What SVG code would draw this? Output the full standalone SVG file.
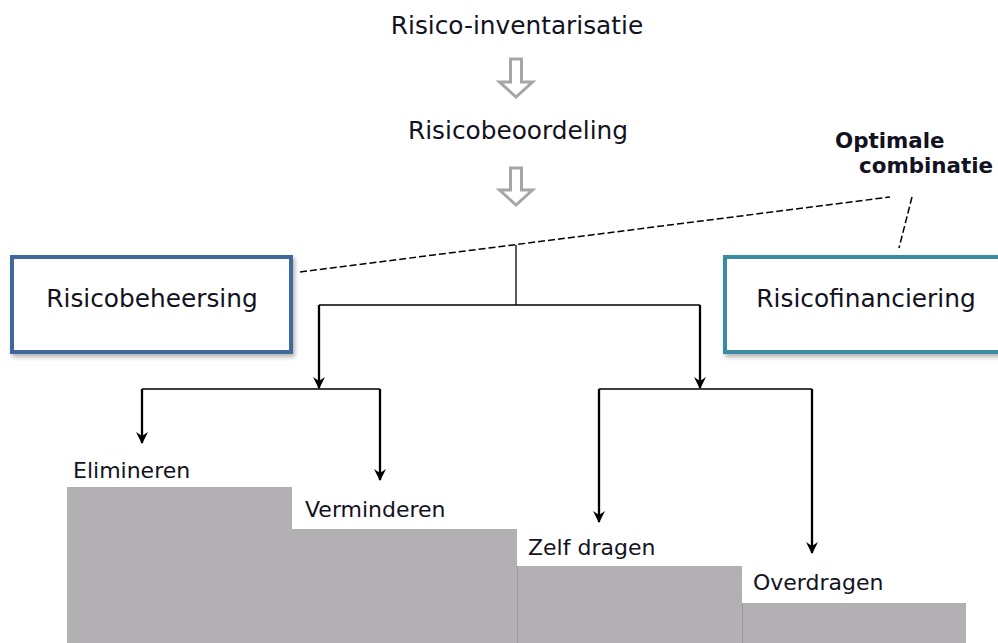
<svg xmlns="http://www.w3.org/2000/svg" width="998" height="643" viewBox="0 0 998 643">
<defs>
<style>
.t{font-family:"DejaVu Sans","Liberation Sans",sans-serif;fill:#121222;}
.big{font-size:24.8px;}
.lbl{font-size:22px;}
.bold{font-size:21.4px;font-weight:bold;}
.hollow{fill:#fff;stroke:#a6a6a6;stroke-width:3;stroke-linejoin:miter;}
.ln{stroke:#000;fill:none;}
.thin{stroke-width:1.3;}
.thick{stroke-width:2.3;}
.dash{stroke:#000;stroke-width:1.5;stroke-dasharray:7 3;fill:none;}
.step{fill:#b3b0b3;}
.edge{stroke:#9c999c;stroke-width:1;}
</style>
<marker id="ah" viewBox="0 0 12 12" refX="11" refY="6" markerWidth="12" markerHeight="12" markerUnits="userSpaceOnUse" orient="auto">
<path d="M0,0 L12,6 L0,12 L4,6 z" fill="#000"/>
</marker>
<filter id="sh" x="-5%" y="-10%" width="115%" height="130%">
<feDropShadow dx="2" dy="3" stdDeviation="2" flood-color="#000" flood-opacity="0.3"/>
</filter>
</defs>
<rect width="998" height="643" fill="#fff"/>

<g id="steps">
<rect class="step" x="67" y="487" width="225" height="156"/>
<rect class="step" x="292" y="529" width="225" height="114"/>
<rect class="step" x="517" y="566" width="225" height="77"/>
<rect class="step" x="742" y="603" width="224" height="40"/>
<line class="edge" x1="517.5" y1="566" x2="517.5" y2="643"/>
<line class="edge" x1="742.5" y1="603" x2="742.5" y2="643"/>
</g>

<g id="risico-inventarisatie">
<text class="t big" x="517" y="34" text-anchor="middle">Risico-inventarisatie</text>
</g>
<g id="arrow1">
<polygon class="hollow" points="510.5,59 521.5,59 521.5,82 532.5,82 516,97 499.5,82 510.5,82"/>
</g>
<g id="risicobeoordeling">
<text class="t big" x="518" y="139" text-anchor="middle">Risicobeoordeling</text>
</g>
<g id="arrow2">
<polygon class="hollow" points="510.5,168 521.5,168 521.5,190 532.5,190 516,205 499.5,190 510.5,190"/>
</g>

<g id="optimale-combinatie">
<text class="t bold" x="835" y="148">Optimale</text>
<text class="t bold" x="859" y="173">combinatie</text>
</g>

<g id="risicobeheersing">
<rect x="12" y="257" width="279" height="95" fill="#fff" stroke="#41679a" stroke-width="4" filter="url(#sh)"/>
<text class="t big" x="152" y="307" text-anchor="middle">Risicobeheersing</text>
</g>

<g id="risicofinanciering">
<rect x="725" y="257" width="290" height="95" fill="#fff" stroke="#3a8ba3" stroke-width="4" filter="url(#sh)"/>
<text class="t big" x="866" y="307" text-anchor="middle">Risicofinanciering</text>
</g>

<g id="elimineren"><text class="t lbl" x="73" y="478">Elimineren</text></g>
<g id="verminderen"><text class="t lbl" x="305" y="517">Verminderen</text></g>
<g id="zelf-dragen"><text class="t lbl" x="528" y="555">Zelf dragen</text></g>
<g id="overdragen"><text class="t lbl" x="753" y="590">Overdragen</text></g>

<g id="connectors">
<path class="dash" d="M300,272 L890,197"/>
<path class="dash" d="M912,197 L899,248"/>
<path class="ln thin" d="M516,245 V305 M319,305 H700"/>
<path class="ln thick" d="M319,305 V388" marker-end="url(#ah)"/>
<path class="ln thick" d="M700,305 V388" marker-end="url(#ah)"/>
<path class="ln thin" d="M142,389 H380 M599,389 H812"/>
<path class="ln thick" d="M142,389 V443" marker-end="url(#ah)"/>
<path class="ln thick" d="M380,389 V480" marker-end="url(#ah)"/>
<path class="ln thick" d="M599,389 V522" marker-end="url(#ah)"/>
<path class="ln thick" d="M812,389 V553" marker-end="url(#ah)"/>
</g>
</svg>
